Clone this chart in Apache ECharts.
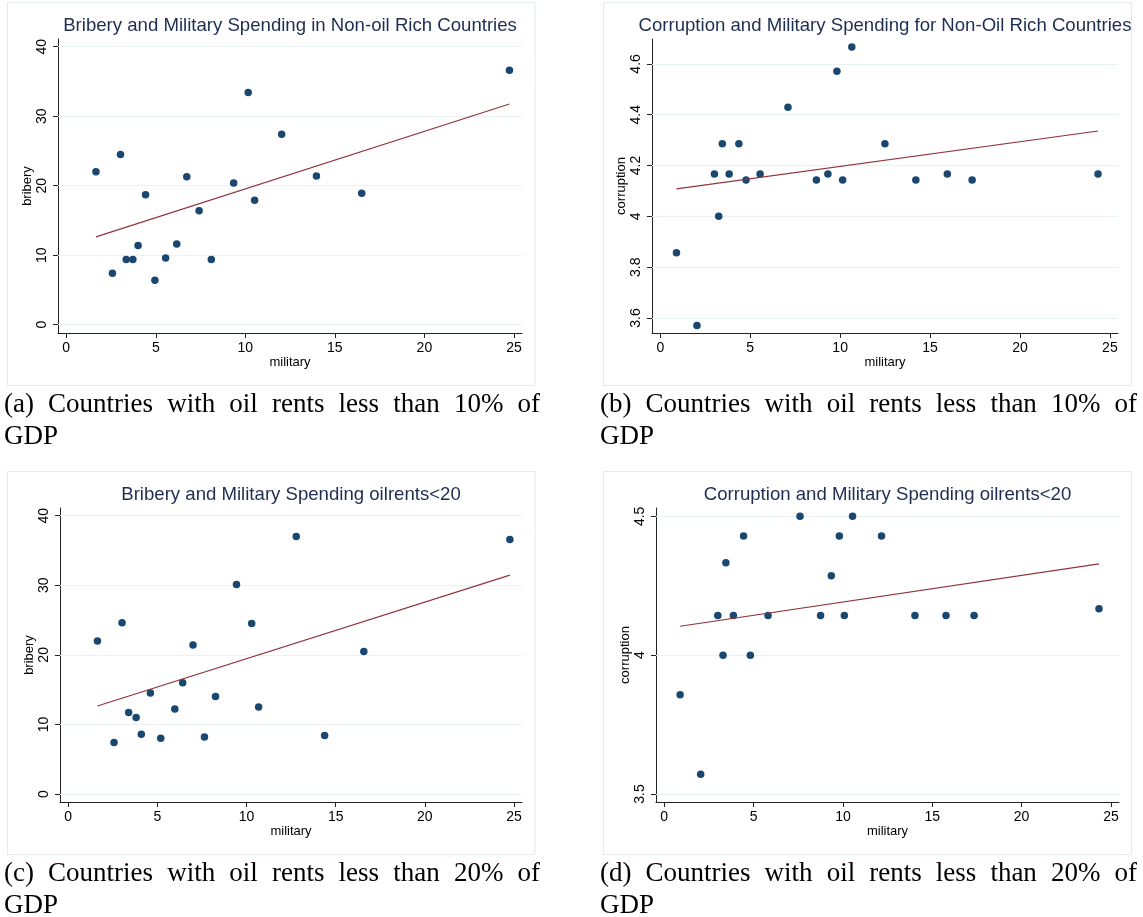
<!DOCTYPE html>
<html>
<head>
<meta charset="utf-8">
<script src="https://cdn.jsdelivr.net/npm/echarts@6.0.0/dist/echarts.min.js"></script>
<style>
  html, body { margin: 0; padding: 0; background: #fff; }
  #wrap { position: relative; width: 1143px; height: 917px; overflow: hidden; }
  #chart { position: absolute; left: 0; top: 0; width: 1143px; height: 917px; }
  .cap { position: absolute; font-family: 'Liberation Serif', 'DejaVu Serif', serif; font-size: 27px; line-height: 32px; color: #000; }
  .cap .l1 { text-align: justify; text-align-last: justify; }
</style>
</head>
<body>
<div id="wrap">
  <div id="chart"></div>
  <div class="cap" style="left:4px; top:387px; width:536px;"><div class="l1">(a) Countries with oil rents less than 10% of</div><div>GDP</div></div>
  <div class="cap" style="left:600px; top:387px; width:537px;"><div class="l1">(b) Countries with oil rents less than 10% of</div><div>GDP</div></div>
  <div class="cap" style="left:4px; top:856px; width:536px;"><div class="l1">(c) Countries with oil rents less than 20% of</div><div>GDP</div></div>
  <div class="cap" style="left:600px; top:856px; width:537px;"><div class="l1">(d) Countries with oil rents less than 20% of</div><div>GDP</div></div>
</div>
<script>
// tick labels
const ticksMilitary = [0, 5, 10, 15, 20, 25]
const ticksBribery = [0, 10, 20, 30, 40]
const ticksCorruption10 = [3.6, 3.8, 4, 4.2, 4.4, 4.6]
const ticksCorruption20 = [3.5, 4, 4.5]

// (a) bribery vs military, oil rents < 10%
const militaryA = [1.66, 2.58, 3.03, 3.35, 3.72, 4.01, 4.43, 4.95, 5.55, 6.17, 6.73, 7.42, 8.10, 9.35, 10.16, 10.52, 12.03, 13.97, 16.50, 24.75]
const briberyA = [22.0, 7.4, 24.5, 9.4, 9.4, 11.4, 18.7, 6.4, 9.6, 11.6, 21.3, 16.4, 9.4, 20.4, 33.4, 17.9, 27.4, 21.4, 18.9, 36.6]
const fitXA = [1.66, 24.75]
const fitYA = [12.65, 31.76]

// (b) corruption vs military, oil rents < 10%
const militaryB = [0.90, 2.04, 3.01, 3.25, 3.45, 3.83, 4.37, 4.77, 5.55, 7.10, 8.68, 9.32, 9.82, 10.14, 10.65, 12.49, 14.21, 15.96, 17.34, 24.34]
const corruptionB = [3.857, 3.571, 4.167, 4.0, 4.286, 4.167, 4.286, 4.143, 4.167, 4.429, 4.143, 4.167, 4.571, 4.143, 4.667, 4.286, 4.143, 4.167, 4.143, 4.167]
const fitXB = [0.90, 24.34]
const fitYB = [4.108, 4.336]

// (c) bribery vs military, oil rents < 20%
const militaryC = [1.64, 2.57, 3.02, 3.39, 3.81, 4.10, 4.61, 5.19, 5.98, 6.42, 7.00, 7.64, 8.26, 9.44, 10.29, 10.68, 12.79, 14.38, 16.58, 24.77]
const briberyC = [22.0, 7.4, 24.6, 11.7, 11.0, 8.6, 14.5, 8.0, 12.2, 16.0, 21.4, 8.2, 14.0, 30.1, 24.5, 12.5, 37.0, 8.4, 20.5, 36.6]
const fitXC = [1.64, 24.77]
const fitYC = [12.65, 31.47]

// (d) corruption vs military, oil rents < 20%
const militaryD = [0.89, 2.04, 3.00, 3.29, 3.45, 3.87, 4.44, 4.82, 5.81, 7.60, 8.75, 9.35, 9.80, 10.08, 10.54, 12.16, 14.03, 15.77, 17.34, 24.33]
const corruptionD = [3.857, 3.571, 4.143, 4.0, 4.333, 4.143, 4.429, 4.0, 4.143, 4.5, 4.143, 4.286, 4.429, 4.143, 4.5, 4.429, 4.143, 4.143, 4.143, 4.167]
const fitXD = [0.89, 24.33]
const fitYD = [4.104, 4.329]

const FONT = 'Liberation Sans, Arial, Helvetica, sans-serif'
const pointColor = '#1a476f'
const fitColor = '#90353b'
const gridColor = '#e9f1f3'
const frameColor = '#e3ebee'

const panels = [
  { title: 'Bribery and Military Spending in Non-oil Rich Countries', yName: 'bribery',
    x: militaryA, y: briberyA, fx: fitXA, fy: fitYA, yTicks: ticksBribery,
    grid: { left: 58, top: 39, width: 464, height: 294 }, yMin: -1.19, yMax: 41.11, yNameGap: 22,
    frame: [7.5, 2.5, 527.5, 383] },
  { title: 'Corruption and Military Spending for Non-Oil Rich Countries', yName: 'corruption',
    x: militaryB, y: corruptionB, fx: fitXB, fy: fitYB, yTicks: ticksCorruption10,
    grid: { left: 652, top: 39, width: 466, height: 294 }, yMin: 3.541, yMax: 4.698, yNameGap: 13,
    frame: [603.5, 2.5, 528, 383] },
  { title: 'Bribery and Military Spending oilrents<20', yName: 'bribery',
    x: militaryC, y: briberyC, fx: fitXC, fy: fitYC, yTicks: ticksBribery,
    grid: { left: 60, top: 508, width: 462, height: 294 }, yMin: -1.15, yMax: 41.11, yNameGap: 24,
    frame: [7.5, 471.5, 527.5, 383] },
  { title: 'Corruption and Military Spending oilrents<20', yName: 'corruption',
    x: militaryD, y: corruptionD, fx: fitXD, fy: fitYD, yTicks: ticksCorruption20,
    grid: { left: 656, top: 508, width: 463, height: 294 }, yMin: 3.471, yMax: 4.530, yNameGap: 23,
    frame: [603.5, 471.5, 528, 383] },
]

function buildOption() {
  let option = {
    animation: false,
    backgroundColor: '#fff',
    textStyle: { fontFamily: FONT },
    title: [],
    grid: [],
    xAxis: [],
    yAxis: [],
    series: [],
    graphic: [],
  }
  panels.forEach((p, i) => {
    option.grid.push(Object.assign({ containLabel: false }, p.grid))
    option.title.push({
      text: p.title,
      left: p.grid.left + p.grid.width / 2,
      top: p.grid.top - 23,
      textAlign: 'center',
      padding: 0,
      textStyle: { color: '#1e2d50', fontSize: 18.6, fontWeight: 'normal', fontFamily: FONT },
    })
    option.xAxis.push({
      type: 'value',
      gridIndex: i,
      min: -0.46,
      max: 25.45,
      name: 'military',
      nameLocation: 'middle',
      nameGap: 23,
      nameTextStyle: { color: '#000', fontSize: 13, fontFamily: FONT },
      axisLine: { onZero: false, lineStyle: { color: '#222', width: 1 } },
      axisTick: { length: 5, customValues: ticksMilitary, lineStyle: { color: '#222' } },
      axisLabel: { customValues: ticksMilitary, margin: 8, color: '#000', fontSize: 14, fontFamily: FONT },
      splitLine: { show: false },
    })
    option.yAxis.push({
      type: 'value',
      gridIndex: i,
      min: p.yMin,
      max: p.yMax,
      name: p.yName,
      nameLocation: 'middle',
      nameGap: p.yNameGap,
      nameTextStyle: { color: '#000', fontSize: 13, fontFamily: FONT },
      axisLine: { onZero: false, lineStyle: { color: '#222', width: 1 } },
      axisTick: { length: 5, customValues: p.yTicks, lineStyle: { color: '#222' } },
      axisLabel: { customValues: p.yTicks, rotate: 90, margin: 9, color: '#000', fontSize: 14, fontFamily: FONT },
      splitLine: { show: false },
    })
    // light horizontal grid lines at the y ticks
    option.series.push({
      type: 'line',
      xAxisIndex: i,
      yAxisIndex: i,
      z: 1,
      silent: true,
      showSymbol: false,
      data: [],
      markLine: {
        z: 1,
        silent: true,
        symbol: 'none',
        label: { show: false },
        emphasis: { disabled: true },
        lineStyle: { color: gridColor, width: 1, type: 'solid' },
        data: p.yTicks.map((v) => ({ yAxis: v })),
      },
    })
    option.series.push({
      type: 'scatter',
      xAxisIndex: i,
      yAxisIndex: i,
      z: 3,
      symbolSize: 7.5,
      itemStyle: { color: pointColor, opacity: 1 },
      data: p.x.map((v, k) => [v, p.y[k]]),
    })
    option.series.push({
      type: 'line',
      xAxisIndex: i,
      yAxisIndex: i,
      z: 4,
      showSymbol: false,
      lineStyle: { color: fitColor, width: 1.2 },
      data: p.fx.map((v, k) => [v, p.fy[k]]),
    })
    option.graphic.push({
      type: 'rect',
      silent: true,
      shape: { x: p.frame[0], y: p.frame[1], width: p.frame[2], height: p.frame[3] },
      style: { fill: 'none', stroke: frameColor, lineWidth: 1 },
    })
  })
  return option
}

let myChart = echarts.init(document.getElementById('chart'))
myChart.setOption(buildOption())
window.addEventListener('resize', () => {
  myChart.resize()
})
</script>
</body>
</html>
